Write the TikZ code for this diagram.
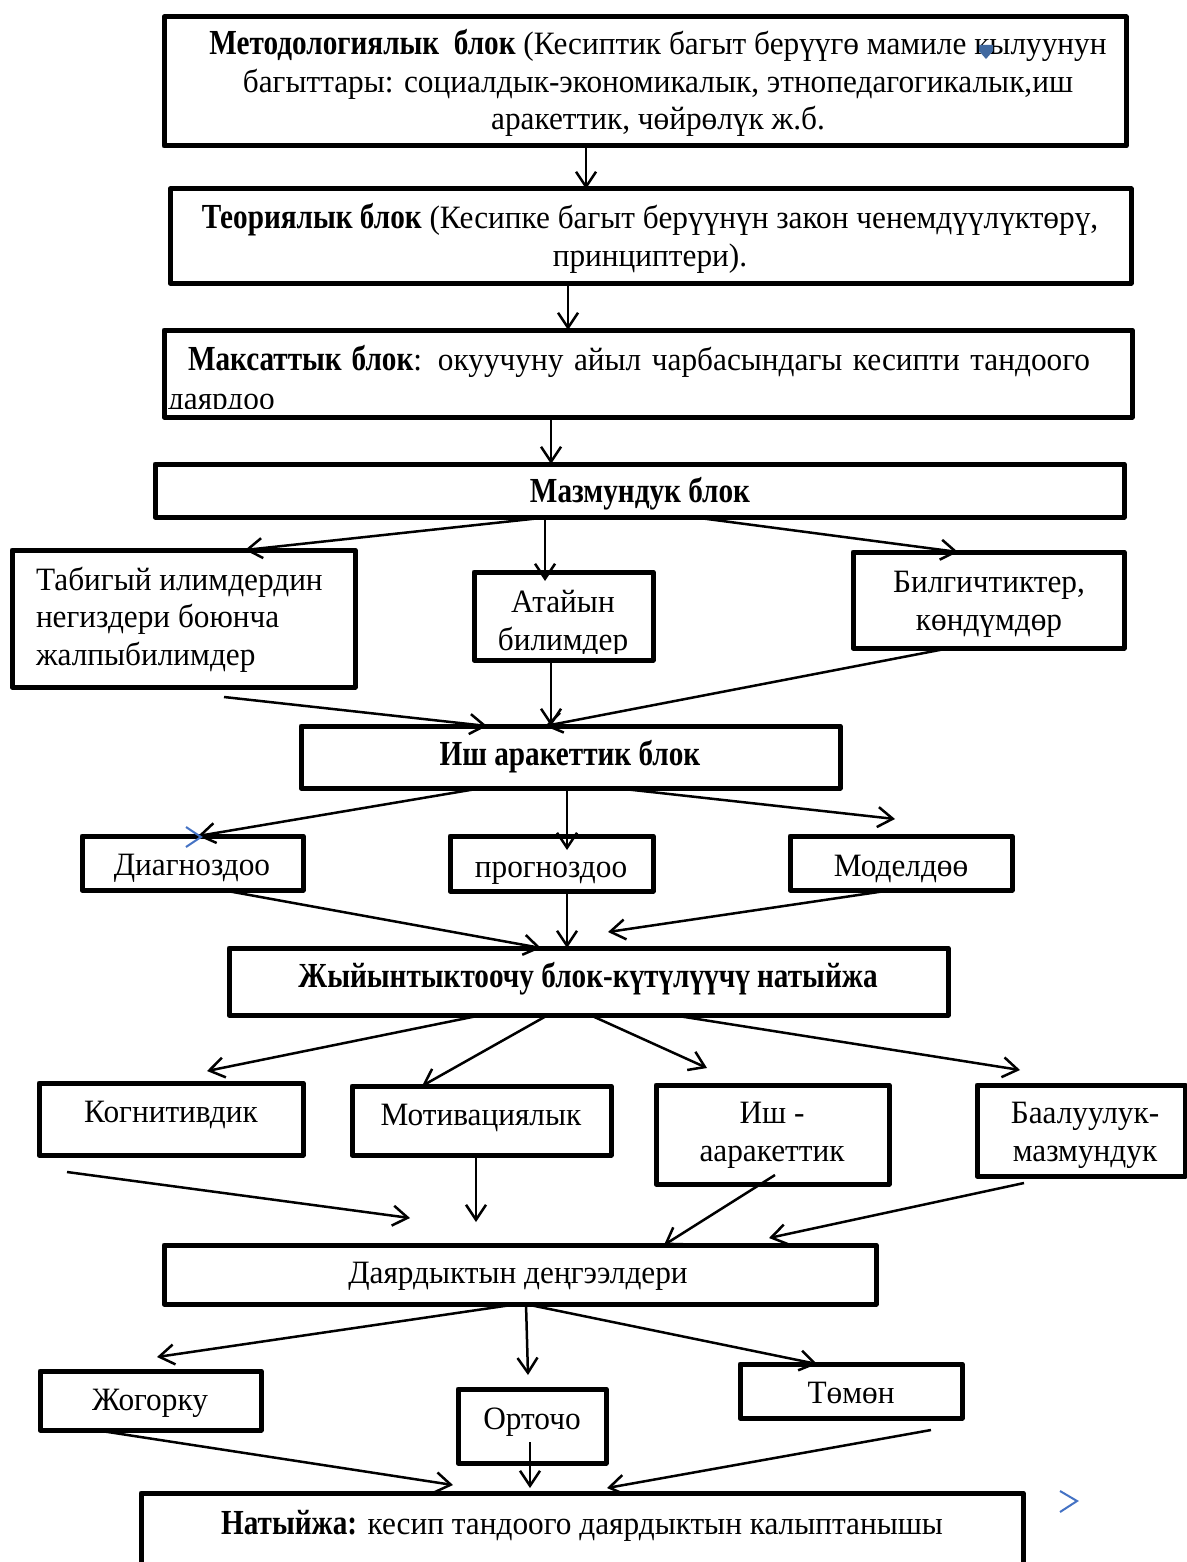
\documentclass[tikz,border=0pt]{standalone}
\usepackage{fontspec}
\setmainfont[FakeStretch=0.96, BoldFeatures={FakeStretch=0.83}]{Liberation Serif}
\usetikzlibrary{arrows.meta,calc}
\definecolor{chevblue}{RGB}{68,114,196}
\definecolor{diamblue}{RGB}{65,105,160}
\newcommand\bldtxt[1]{{\fontsize{17.6}{18.75}\selectfont\bfseries #1}}
\tikzset{
  box/.style={draw, line width=2.5pt, line join=round, inner sep=0pt, outer sep=0pt, anchor=north west},
  lbl/.style={font=\fontsize{16.3}{18.75}\selectfont, inner sep=0pt, outer sep=0pt, anchor=base, align=center},
  conn/.style={line width=1.25pt, -{Straight Barb[length=7.5pt,width=10pt]}},
  chev/.style={draw=chevblue, line width=1pt},
}
\newcommand\drawbox[5]{\node[box, minimum width={(#4-#2)*0.5pt}, minimum height={(#5-#3)*0.5pt}] (#1) at (#2,#3) {};}
\begin{document}
\begin{tikzpicture}[x=0.5pt,y=-0.5pt]
\useasboundingbox (0,0) rectangle (1187,1562);
\fill[white] (0,0) rectangle (1187,1562);
% boxes
\drawbox{m1}{164}{17}{1126}{146}
\drawbox{m2}{170}{189}{1131}{283}
\drawbox{m3}{164}{330}{1132}{417}
\drawbox{m4}{155}{464}{1124}{517}
\drawbox{tab}{12}{550}{355}{687}
\drawbox{at}{474}{572}{653}{660}
\drawbox{bil}{853}{552}{1124}{648}
\drawbox{ish}{301}{726}{840}{788}
\drawbox{diag}{82}{836}{303}{890}
\drawbox{prog}{450}{836}{653}{891}
\drawbox{mod}{790}{836}{1012}{890}
\drawbox{jy}{229}{948}{948}{1015}
\drawbox{kog}{39}{1083}{303}{1155}
\drawbox{mot}{352}{1086}{611}{1155}
\drawbox{ishb}{656}{1085}{889}{1184}
\drawbox{baa}{977}{1085}{1185}{1176}
\drawbox{dar}{164}{1245}{876}{1304}
\drawbox{jog}{40}{1371}{261}{1430}
\drawbox{ort}{458}{1389}{606}{1463}
\drawbox{tom}{740}{1364}{962}{1418}
\drawbox{nat}{141}{1493}{1023}{1620}
% texts (multi-line nodes: base = last line)
\node[lbl] (t1) at (658,130) {\bldtxt{Методологиялык\ \ блок} (Кесиптик багыт берүүгө мамиле кылуунун\\багыттары: социалдык-экономикалык, этнопедагогикалык,иш\\аракеттик, чөйрөлүк ж.б.};
\fill[diamblue] (979,45) -- (993,45) -- (993,51) -- (986,59) -- (979,51) -- cycle;
\node[lbl] (t2) at (650,266) {\bldtxt{Теориялык блок} (Кесипке багыт берүүнүн закон ченемдүүлүктөрү,\\принциптери).};
\node[lbl, anchor=base west] (t3) at (188,370) {\hbox to 451pt{\bldtxt{Максаттык блок}: окуучуну айыл чарбасындагы кесипти тандоого}};
\begin{scope}
\clip (166,332) rectangle (1130,408.5);
\node[lbl, anchor=base west] (t3b) at (168,409) {даярдоо};
\end{scope}
\node[lbl] (t4) at (640,502) {\bldtxt{Мазмундук блок}};
\node[lbl, anchor=base west, align=left] (ttab) at (36,665) {Табигый илимдердин\\негиздери боюнча\\жалпыбилимдер};
\begin{scope}
\clip (476,574) rectangle (651,653);
\node[lbl] (tat) at (563,650) {Атайын\\билимдер};
\end{scope}
\node[lbl] (tbil) at (989,630) {Билгичтиктер,\\көндүмдөр};
\node[lbl] (tish) at (570,765) {\bldtxt{Иш аракеттик блок}};
\node[lbl] (tdiag) at (192,875) {Диагноздоо};
\node[lbl] (tprog) at (551,877) {прогноздоо};
\node[lbl] (tmod) at (901,876) {Моделдөө};
\node[lbl] (tjy) at (588,987) {\bldtxt{Жыйынтыктоочу блок-күтүлүүчү натыйжа}};
\node[lbl] (tkog) at (171,1122) {Когнитивдик};
\node[lbl] (tmot) at (481,1125) {Мотивациялык};
\node[lbl] (tishb) at (772,1161) {Иш -\\ааракеттик};
\node[lbl] (tbaa) at (1085,1161) {Баалуулук-\\мазмундук};
\node[lbl] (tdar) at (518,1283) {Даярдыктын деңгээлдери};
\node[lbl] (tjog) at (150,1410) {Жогорку};
\node[lbl] (tort) at (532,1429) {Орточо};
\node[lbl] (ttom) at (851,1403) {Төмөн};
\node[lbl] (tnat) at (582,1534) {\bldtxt{Натыйжа:} кесип тандоого даярдыктын калыптанышы};
% free connector ends
\coordinate (atin) at (545,581);
\coordinate (s7) at (224,697);
\coordinate (progin) at (567,850);
\coordinate (modup) at (895,819);
\coordinate (jyup) at (608,932);
\coordinate (kogup) at (207,1071);
\coordinate (ishbup) at (707,1068);
\coordinate (baaup) at (1020,1070);
\coordinate (kogdn) at (67,1172);
\coordinate (darA) at (410,1218);
\coordinate (darB) at (476,1222);
\coordinate (ishbin) at (775,1175);
\coordinate (baadn) at (1024,1183);
\coordinate (darC) at (769,1238);
\coordinate (jogup) at (157,1357);
\coordinate (ortup) at (528,1375);
\coordinate (natA) at (453,1485);
\coordinate (ortin) at (530,1442);
\coordinate (natB) at (530,1488);
\coordinate (tomdn) at (931,1430);
\coordinate (natC) at (607,1488);
% connectors
\draw[conn] (m1.south -| 586,0) -- (m2.north -| 586,0);
\draw[conn] (m2.south -| 568,0) -- (m3.north -| 568,0);
\draw[conn] (m3.south -| 551,0) -- (m4.north -| 551,0);
\draw[conn] (m4.south -| 550,0) -- (tab.north -| 245,0);
\draw[conn] (m4.south -| 545,0) -- (atin);
\draw[conn] (m4.south -| 692,0) -- (bil.north -| 958,0);
\draw[conn] (s7) -- (ish.north -| 487,0);
\draw[conn] (at.south -| 551,0) -- (ish.north -| 551,0);
\draw[conn] (bil.south -| 950,0) -- (ish.north -| 545,0);
\draw[conn] (ish.south -| 482,0) -- (diag.north -| 198,0);
\draw[conn] (ish.south -| 567,0) -- (progin);
\draw[conn] (ish.south -| 615,0) -- (modup);
\draw[conn] (diag.south -| 222,0) -- (jy.north -| 541,0);
\draw[conn] (prog.south -| 567,0) -- (jy.north -| 567,0);
\draw[conn] (mod.south -| 892,0) -- (jyup);
\draw[conn] (jy.south -| 482,0) -- (kogup);
\draw[conn] (jy.south -| 548,0) -- (mot.north -| 422,0);
\draw[conn] (jy.south -| 590,0) -- (ishbup);
\draw[conn] (jy.south -| 672,0) -- (baaup);
\draw[conn] (kogdn) -- (darA);
\draw[conn] (mot.south -| 476,0) -- (darB);
\draw[conn] (ishbin) -- (dar.north -| 664,0);
\draw[conn] (baadn) -- (darC);
\draw[conn] (dar.south -| 518,0) -- (jogup);
\draw[conn] (dar.south -| 526,0) -- (ortup);
\draw[conn] (dar.south -| 525,0) -- (tom.north -| 817,0);
\draw[conn] (jog.south -| 95,0) -- (natA);
\draw[conn] (ortin) -- (natB);
\draw[conn] (tomdn) -- (natC);
% blue chevrons
\draw[chev] (186,827) -- (201,837) -- (186,847);
\draw[chev] (1060,1491) -- (1077,1501) -- (1060,1512);
\end{tikzpicture}
\end{document}
